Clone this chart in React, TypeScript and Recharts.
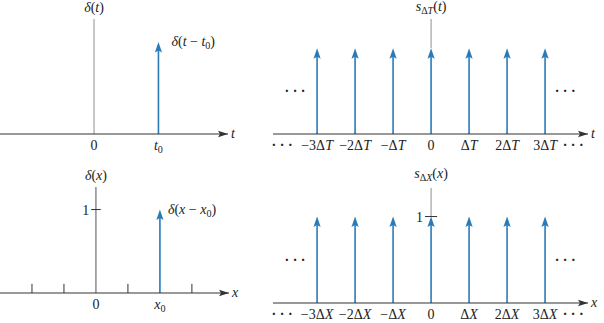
import React from "react";
import { ComposedChart, Bar, XAxis, YAxis, ReferenceLine, ReferenceDot } from "recharts";

const BLUE = "#2b7ab8";
const AXIS = "#333333";
const FONT = "Liberation Serif, Times New Roman, Times, DejaVu Serif, serif";

// top left: delta(t - t0), t0 = 1
const shiftTPos = [1];
const shiftTAmp = [1];
const shiftTTicks = [0, 1];
const shiftTTickLabels = ["0", "t_0"];

// top right: impulse train s_dT(t)
const trainTPos = [-3, -2, -1, 0, 1, 2, 3];
const trainTAmp = [1, 1, 1, 1, 1, 1, 1];
const trainTTicks = [-3.92, -3, -2, -1, 0, 1, 2, 3, 3.74];
const trainTTickLabels = ["···", "−3ΔT", "−2ΔT", "−ΔT", "0", "ΔT", "2ΔT", "3ΔT", "···"];
const trainTDots = [-3.58, 3.53];

// bottom left: delta(x - x0), x0 = 2
const shiftXPos = [2];
const shiftXAmp = [1];
const shiftXTicks = [0, 2];
const shiftXTickLabels = ["0", "x_0"];
const shiftXMinor = [-2, -1, 1, 3];

// bottom right: impulse train s_dX(x)
const trainXPos = [-3, -2, -1, 0, 1, 2, 3];
const trainXAmp = [1, 1, 1, 1, 1, 1, 1];
const trainXTicks = [-3.92, -3, -2, -1, 0, 1, 2, 3, 3.74];
const trainXTickLabels = ["···", "−3ΔX", "−2ΔX", "−ΔX", "0", "ΔX", "2ΔX", "3ΔX", "···"];
const trainXDots = [-3.58, 3.53];

type Seg = { s: string; it: boolean; sub: boolean };

function parseMath(str: string): Seg[] {
  const out: Seg[] = [];
  const isIt = (c: string) => /[a-zA-Zδ]/.test(c);
  let i = 0;
  while (i < str.length) {
    if (str[i] === "_") {
      i++;
      let chunk = str[i];
      if (str[i] === "{") {
        const j = str.indexOf("}", i);
        chunk = str.slice(i + 1, j);
        i = j + 1;
      } else i++;
      for (const c of chunk) out.push({ s: c, it: isIt(c), sub: true });
      continue;
    }
    out.push({ s: str[i], it: isIt(str[i]), sub: false });
    i++;
  }
  const merged: Seg[] = [];
  out.forEach((g) => {
    const last = merged[merged.length - 1];
    if (last && last.it === g.it && last.sub === g.sub) last.s += g.s;
    else merged.push({ ...g });
  });
  return merged;
}

function MathText({ x, y, text, anchor = "middle", size = 14 }: any) {
  // dotted ellipsis drawn as spaced heavy dots
  if (text === "···") {
    return (
      <text x={x} y={y} textAnchor={anchor} style={{ fontFamily: FONT, fontSize: 14, fontWeight: 700 }} fill="#222">
        · · ·
      </text>
    );
  }
  const segs = parseMath(text);
  let cur = 0;
  return (
    <text x={x} y={y} textAnchor={anchor} style={{ fontFamily: FONT, fontSize: size }} fill="#222">
      {segs.map((g, k) => {
        const target = g.sub ? 3 : 0;
        const dy = target - cur;
        cur = target;
        return (
          <tspan key={k} dy={dy} style={{ fontStyle: g.it ? "italic" : "normal", fontSize: g.sub ? size * 0.72 : size }}>
            {g.s}
          </tspan>
        );
      })}
    </text>
  );
}

const Impulse = (props: any) => {
  const { x, y, width, height } = props;
  const cx = x + width / 2;
  return (
    <g>
      <line x1={cx} y1={y + height} x2={cx} y2={y + 8} stroke={BLUE} strokeWidth={1.6} />
      <path d={`M${cx},${y} L${cx + 3.6},${y + 10.5} L${cx},${y + 8.5} L${cx - 3.6},${y + 10.5} Z`} fill={BLUE} />
    </g>
  );
};

function Panel(p: any) {
  const data = p.pos.map((v: number, i: number) => ({ pos: v, amp: p.amp[i] }));
  const labelFor = (v: number) => p.tickLabels[p.ticks.indexOf(v)] ?? "";
  return (
    <div style={{ position: "absolute", left: p.left, top: p.top }}>
      <ComposedChart width={p.width} height={p.height} data={data} margin={p.margin}>
        <XAxis
          type="number"
          dataKey="pos"
          domain={p.xDomain}
          allowDataOverflow
          ticks={p.ticks}
          interval={0}
          height={p.axisH}
          tickLine={false}
          tickSize={6}
          tickMargin={0}
          axisLine={{ stroke: AXIS, strokeWidth: 1 }}
          tick={(t: any) => <MathText x={t.x} y={t.y + 10} text={labelFor(t.payload.value)} />}
        />
        <YAxis hide type="number" domain={p.yDomain} allowDataOverflow />
        {p.fullV ? (
          <ReferenceLine x={0} stroke={p.vColor} strokeWidth={1} />
        ) : (
          <ReferenceLine
            segment={[{ x: 0, y: 1 }, { x: 0, y: p.yDomain[1] }]}
            stroke={p.vColor}
            strokeWidth={1}
          />
        )}
        {(p.minor || []).map((v: number) => (
          <ReferenceLine key={`m${v}`} segment={[{ x: v, y: 0 }, { x: v, y: 0.11 }]} stroke={AXIS} strokeWidth={1} />
        ))}
        {p.unitTick && (
          <ReferenceLine
            segment={[{ x: -p.unitTick, y: 1 }, { x: p.unitTick, y: 1 }]}
            stroke={AXIS}
            strokeWidth={1}
          />
        )}
        {p.unitTick && (
          <ReferenceDot
            x={-p.unitTick}
            y={1}
            ifOverflow="visible"
            shape={(d: any) => <MathText x={d.cx - 2} y={d.cy + 5} text="1" anchor="end" />}
          />
        )}
        <Bar dataKey="amp" barSize={6} isAnimationActive={false} shape={Impulse} />
        <ReferenceDot
          x={0}
          y={p.yDomain[1]}
          ifOverflow="visible"
          shape={(d: any) => <MathText x={d.cx} y={d.cy - p.titleGap} text={p.title} />}
        />
        {p.tag && (
          <ReferenceDot
            x={p.pos[0]}
            y={1}
            ifOverflow="visible"
            shape={(d: any) => <MathText x={d.cx + p.tagDx} y={d.cy + 4} text={p.tag} anchor="start" />}
          />
        )}
        {(p.dots || []).map((v: number) => (
          <ReferenceDot
            key={`d${v}`}
            x={v}
            y={0.49}
            ifOverflow="visible"
            shape={(d: any) => <MathText x={d.cx} y={d.cy + 4} text="···" />}
          />
        ))}
        <ReferenceDot
          x={p.xDomain[1]}
          y={0}
          ifOverflow="visible"
          shape={(d: any) => (
            <g>
              <path
                d={`M${d.cx},${d.cy} L${d.cx - 10},${d.cy - 3.2} L${d.cx - 8},${d.cy} L${d.cx - 10},${d.cy + 3.2} Z`}
                fill={AXIS}
              />
              <MathText x={d.cx + 3} y={d.cy + 4} text={p.axisName} anchor="start" />
            </g>
          )}
        />
      </ComposedChart>
    </div>
  );
}

export default function App() {
  return (
    <div style={{ position: "absolute", left: 0, top: 0, width: 604, height: 323, background: "#fff" }}>
      <Panel
        left={0}
        top={0}
        width={260}
        height={160}
        margin={{ top: 19, right: 32, left: 0, bottom: 0 }}
        axisH={26}
        xDomain={[-1.46, 2.08]}
        yDomain={[0, 1.25]}
        pos={shiftTPos}
        amp={shiftTAmp}
        ticks={shiftTTicks}
        tickLabels={shiftTTickLabels}
        fullV
        vColor="#8f8f8f"
        title="δ(t)"
        titleGap={7}
        tag="δ(t − t_0)"
        tagDx={13}
        axisName="t"
      />
      <Panel
        left={260}
        top={0}
        width={344}
        height={160}
        margin={{ top: 19, right: 16, left: 13, bottom: 0 }}
        axisH={26}
        xDomain={[-4.16, 4.13]}
        yDomain={[0, 1.34]}
        pos={trainTPos}
        amp={trainTAmp}
        ticks={trainTTicks}
        tickLabels={trainTTickLabels}
        dots={trainTDots}
        vColor="#8f8f8f"
        title="s_{ΔT}(t)"
        titleGap={8}
        axisName="t"
      />
      <Panel
        left={0}
        top={160}
        width={260}
        height={163}
        margin={{ top: 27, right: 31, left: 0, bottom: 0 }}
        axisH={30}
        xDomain={[-3, 4.16]}
        yDomain={[0, 1.27]}
        pos={shiftXPos}
        amp={shiftXAmp}
        ticks={shiftXTicks}
        tickLabels={shiftXTickLabels}
        minor={shiftXMinor}
        unitTick={0.15}
        fullV
        vColor="#555555"
        title="δ(x)"
        titleGap={7}
        tag="δ(x − x_0)"
        tagDx={8}
        axisName="x"
      />
      <Panel
        left={260}
        top={160}
        width={344}
        height={163}
        margin={{ top: 28, right: 16, left: 13, bottom: 0 }}
        axisH={20}
        xDomain={[-4.16, 4.13]}
        yDomain={[0, 1.33]}
        pos={trainXPos}
        amp={trainXAmp}
        ticks={trainXTicks}
        tickLabels={trainXTickLabels}
        dots={trainXDots}
        unitTick={0.16}
        vColor="#8f8f8f"
        title="s_{ΔX}(x)"
        titleGap={10}
        axisName="x"
      />
</div>
  );
}
